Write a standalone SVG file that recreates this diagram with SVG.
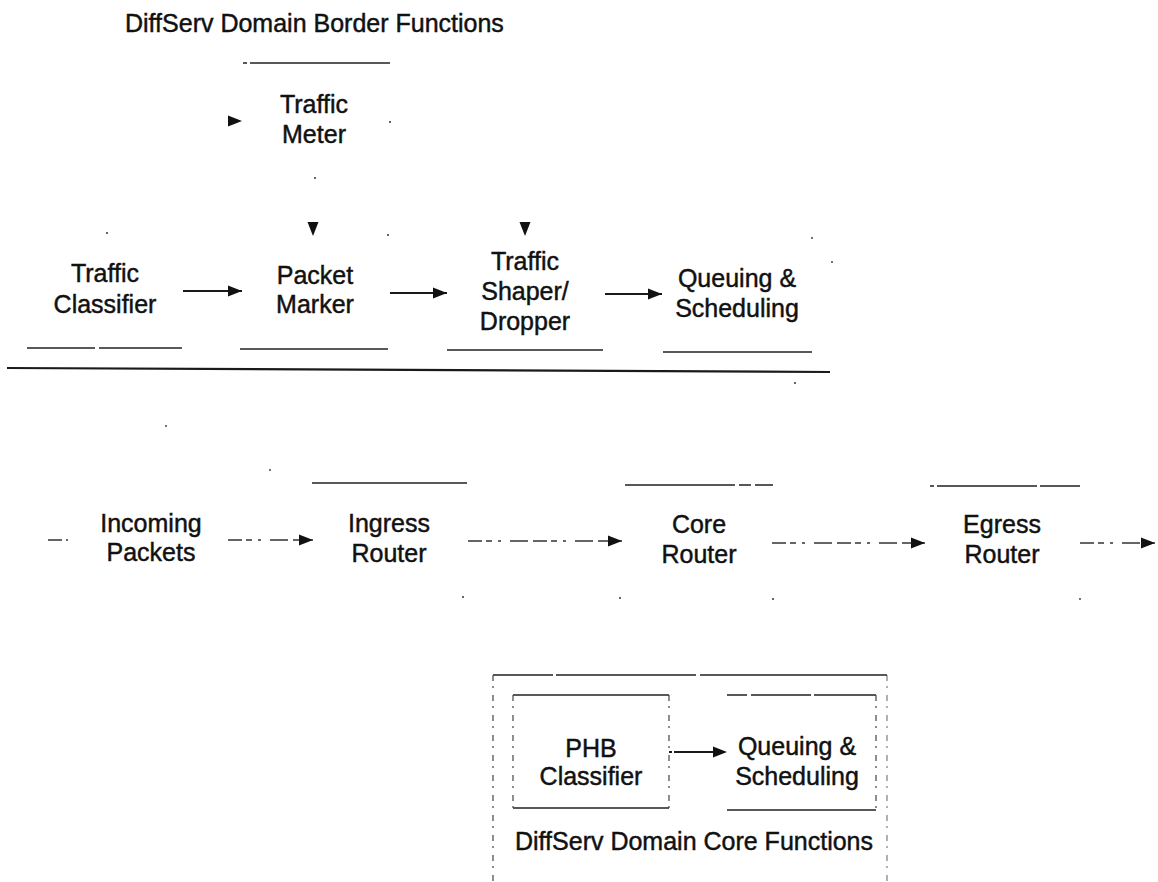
<svg xmlns="http://www.w3.org/2000/svg" xmlns:xlink="http://www.w3.org/1999/xlink" width="1158" height="882" viewBox="0 0 1158 882">
  <style>
    .lbl { font-family: "Liberation Sans", Arial, Helvetica, sans-serif; font-size: 25px; fill: #111; stroke: #111; stroke-width: 0.45; text-anchor: middle; }
    .title { font-family: "Liberation Sans", Arial, Helvetica, sans-serif; font-size: 25px; fill: #111; stroke: #111; stroke-width: 0.45; }
    .edge { stroke: #1a1a1a; stroke-width: 1.8; fill: none; }
    .rule { stroke: #222; stroke-width: 1.6; fill: none; }
    .faint { stroke: #444; stroke-width: 1.2; fill: none; stroke-dasharray: 6 5 2 7; }
    .sep { stroke: #1a1a1a; stroke-width: 2.2; fill: none; }
    .dash { stroke: #333; stroke-width: 1.3; fill: none; stroke-dasharray: 14 4 6 6 3 9 18 5; }
    .speck { fill: #333; }
  </style>
  <defs>
    <!-- filled arrowhead, tip at the origin, pointing along +x -->
    <path id="ah" d="M-14,-5.5 L0,0 L-14,5.5 Z" fill="#111"/>
    <marker id="arrow" markerUnits="userSpaceOnUse" markerWidth="15" markerHeight="12" refX="14" refY="6" orient="auto">
      <path d="M0,0.5 L14,6 L0,11.5 Z" fill="#111"/>
    </marker>
  </defs>

  <rect width="1158" height="882" fill="#fff"/>

  <!-- border functions heading -->
  <text class="title" x="125" y="32">DiffServ Domain Border Functions</text>

  <!-- border function nodes -->
  <g id="traffic-meter">
    <line class="rule" x1="243" y1="63" x2="392" y2="63" stroke-dasharray="4 3 140"/>
    <text class="lbl" x="314" y="113">Traffic</text>
    <text class="lbl" x="314" y="143">Meter</text>
  </g>
  <g id="traffic-classifier">
    <line class="rule" x1="27" y1="348" x2="95" y2="348"/>
    <line class="rule" x1="99" y1="348" x2="182" y2="348"/>
    <text class="lbl" x="105" y="282">Traffic</text>
    <text class="lbl" x="105" y="313">Classifier</text>
  </g>
  <g id="packet-marker">
    <line class="rule" x1="240" y1="349" x2="388" y2="349"/>
    <text class="lbl" x="315" y="284">Packet</text>
    <text class="lbl" x="315" y="313">Marker</text>
  </g>
  <g id="traffic-shaper-dropper">
    <line class="rule" x1="447" y1="350" x2="603" y2="350"/>
    <text class="lbl" x="525" y="270">Traffic</text>
    <text class="lbl" x="525" y="300">Shaper/</text>
    <text class="lbl" x="525" y="330">Dropper</text>
  </g>
  <g id="border-queuing">
    <line class="rule" x1="663" y1="352" x2="812" y2="352"/>
    <text class="lbl" x="737" y="287">Queuing &amp;</text>
    <text class="lbl" x="737" y="317">Scheduling</text>
  </g>

  <!-- separator between border functions and the router chain -->
  <line class="sep" x1="7" y1="368" x2="830" y2="372"/>

  <!-- router chain -->
  <g id="incoming-packets">
    <text class="lbl" x="151" y="532">Incoming</text>
    <text class="lbl" x="151" y="561">Packets</text>
  </g>
  <g id="ingress-router">
    <line class="rule" x1="312" y1="483" x2="467" y2="483"/>
    <text class="lbl" x="389" y="532">Ingress</text>
    <text class="lbl" x="389" y="562">Router</text>
  </g>
  <g id="core-router">
    <line class="rule" x1="625" y1="485" x2="773" y2="485" stroke-dasharray="110 4 12 4 30"/>
    <text class="lbl" x="699" y="533">Core</text>
    <text class="lbl" x="699" y="563">Router</text>
  </g>
  <g id="egress-router">
    <line class="rule" x1="930" y1="486" x2="1080" y2="486" stroke-dasharray="4 3 100 3 40"/>
    <text class="lbl" x="1002" y="533">Egress</text>
    <text class="lbl" x="1002" y="563">Router</text>
  </g>

  <!-- core functions panel -->
  <g id="core-functions">
    <line class="rule" x1="493" y1="675" x2="887" y2="675" stroke-dasharray="60 3 140 4 190"/>
    <line class="faint" x1="493" y1="675" x2="493" y2="882" stroke-dasharray="10 4 3 5 18 3"/>
    <line class="faint" x1="887" y1="675" x2="887" y2="882" stroke-dasharray="2 30 3 22 2 40 3 60" opacity="0.7"/>
    <text class="title" x="515" y="850">DiffServ Domain Core Functions</text>
  </g>
  <g id="phb-classifier">
    <line class="rule" x1="513" y1="695" x2="669" y2="695" stroke-width="1.2"/>
    <line class="rule" x1="513" y1="808" x2="669" y2="808"/>
    <line class="faint" x1="513" y1="695" x2="513" y2="808"/>
    <line class="faint" x1="669" y1="695" x2="669" y2="808"/>
    <text class="lbl" x="591" y="757">PHB</text>
    <text class="lbl" x="591" y="785">Classifier</text>
  </g>
  <g id="core-queuing">
    <line class="rule" x1="727" y1="695" x2="876" y2="695" stroke-width="1.2" stroke-dasharray="20 4 60 3 70"/>
    <line class="rule" x1="727" y1="810" x2="876" y2="810"/>
    <line class="faint" x1="876" y1="695" x2="876" y2="810"/>
    <text class="lbl" x="797" y="755">Queuing &amp;</text>
    <text class="lbl" x="797" y="785">Scheduling</text>
  </g>

  <!-- connectors -->
  <g id="connectors">
    <!-- border chain -->
    <line class="edge" x1="183" y1="291" x2="242" y2="291" marker-end="url(#arrow)"/>
    <line class="edge" x1="390" y1="293" x2="447" y2="293" marker-end="url(#arrow)"/>
    <line class="edge" x1="605" y1="294" x2="662" y2="294" marker-end="url(#arrow)"/>
    <!-- arrowheads whose lines are not printed -->
    <use xlink:href="#ah" transform="translate(242,121)"/>
    <use xlink:href="#ah" transform="translate(313,236) rotate(90)"/>
    <use xlink:href="#ah" transform="translate(525,236) rotate(90)"/>
    <!-- router chain -->
    <line class="dash" x1="48" y1="540" x2="68" y2="540" stroke-dasharray="3 4 8 5"/>
    <line class="dash" x1="228" y1="540" x2="313" y2="540" marker-end="url(#arrow)" stroke-dasharray="4 8 3 6 10 4 8 6 3 5"/>
    <line class="dash" x1="468" y1="541" x2="622" y2="541" marker-end="url(#arrow)"/>
    <line class="dash" x1="772" y1="543" x2="925" y2="543" marker-end="url(#arrow)"/>
    <line class="dash" x1="1080" y1="543" x2="1155" y2="543" marker-end="url(#arrow)" stroke-dasharray="3 12 8 8 20 4 30"/>
    <!-- core functions -->
    <line class="edge" x1="669" y1="752" x2="727" y2="752" marker-end="url(#arrow)" stroke-dasharray="3 2 50"/>
  </g>

  <!-- corner specks -->
  <g id="specks">
    <circle class="speck" cx="390" cy="122" r="1"/>
    <circle class="speck" cx="315" cy="178" r="1"/>
    <circle class="speck" cx="107" cy="233" r="1"/>
    <circle class="speck" cx="388" cy="235" r="1"/>
    <circle class="speck" cx="812" cy="238" r="0.9"/>
    <circle class="speck" cx="832" cy="262" r="0.9"/>
    <circle class="speck" cx="795" cy="383" r="1"/>
    <circle class="speck" cx="166" cy="426" r="0.9"/>
    <circle class="speck" cx="270" cy="470" r="0.9"/>
    <circle class="speck" cx="463" cy="597" r="1"/>
    <circle class="speck" cx="620" cy="598" r="1"/>
    <circle class="speck" cx="773" cy="599" r="1"/>
    <circle class="speck" cx="1080" cy="599" r="0.9"/>
  </g>
</svg>
